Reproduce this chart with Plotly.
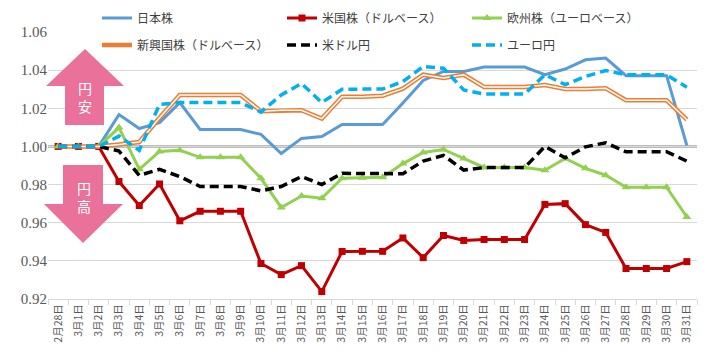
import plotly.graph_objects as go

dates = ["2月28日"] + [f"3月{d}日" for d in range(1, 32)]

japan = [1.0, 1.0, 1.0, 1.0167, 1.0094, 1.0125, 1.023, 1.0089, 1.0089, 1.0089, 1.0063, 0.9963,
         1.0042, 1.0052, 1.0115, 1.0115, 1.0115, 1.0228, 1.0346, 1.0393, 1.0393, 1.0416, 1.0416,
         1.0416, 1.0376, 1.0406, 1.0454, 1.0463, 1.0371, 1.0371, 1.0371, 1.0005]
us = [1.0, 1.0, 1.0, 0.9816, 0.969, 0.9803, 0.961, 0.966, 0.966, 0.966, 0.9386, 0.9328,
      0.9375, 0.9239, 0.9449, 0.945, 0.945, 0.952, 0.9417, 0.9533, 0.9507, 0.9512, 0.9512,
      0.9512, 0.9696, 0.970, 0.959, 0.9549, 0.936, 0.936, 0.936, 0.9396]
europe = [1.0, 1.0, 1.0, 1.0099, 0.988, 0.9974, 0.998, 0.9943, 0.9943, 0.9943, 0.9833, 0.968,
          0.974, 0.9728, 0.9833, 0.9836, 0.9838, 0.991, 0.9968, 0.9984, 0.9937, 0.989, 0.989,
          0.989, 0.9875, 0.9937, 0.9885, 0.9849, 0.9786, 0.9786, 0.9786, 0.963]
emerging = [1.0, 1.0, 1.0, 1.001, 1.0023, 1.015, 1.027, 1.027, 1.027, 1.027, 1.0185, 1.019,
            1.019, 1.0146, 1.026, 1.026, 1.0266, 1.0303, 1.0376, 1.0359, 1.0376, 1.0312, 1.0312,
            1.0312, 1.0322, 1.0301, 1.0301, 1.0305, 1.0242, 1.0242, 1.0242, 1.014]
usdjpy = [1.0, 1.0, 1.0, 0.9976, 0.9848, 0.988, 0.9842, 0.979, 0.979, 0.979, 0.9767, 0.979,
          0.9842, 0.980, 0.9859, 0.9858, 0.9857, 0.9857, 0.9923, 0.9953, 0.9876, 0.9889, 0.9889,
          0.9889, 1.000, 0.994, 0.9998, 1.0019, 0.9972, 0.9972, 0.9972, 0.9923]
eurjpy = [1.0, 1.0, 1.0, 1.0054, 0.998, 1.022, 1.023, 1.023, 1.023, 1.023, 1.018, 1.027,
          1.033, 1.023, 1.030, 1.030, 1.0301, 1.034, 1.0419, 1.041, 1.0296, 1.0275, 1.0275,
          1.0275, 1.0376, 1.0324, 1.0367, 1.0398, 1.0376, 1.0376, 1.0376, 1.031]

y_ticks = [0.92, 0.94, 0.96, 0.98, 1.00, 1.02, 1.04, 1.06]

W, H = 712, 354
L, R, T, B = 48, 15, 32, 55
pw, ph = W - L - R, H - T - B


def px(x):
    return (x - L) / pw


def py(y):
    return (H - B - y) / ph


fig = go.Figure()

fig.add_trace(go.Scatter(x=dates, y=japan, name="日本株", mode="lines",
                         line=dict(color="#5B9BD5", width=3), legend="legend"))
fig.add_trace(go.Scatter(x=dates, y=us, name="米国株（ドルベース）", mode="lines+markers",
                         line=dict(color="#C00000", width=3),
                         marker=dict(symbol="square", size=7, color="#C00000"), legend="legend"))
fig.add_trace(go.Scatter(x=dates, y=europe, name="欧州株（ユーロベース）", mode="lines+markers",
                         line=dict(color="#92D050", width=3),
                         marker=dict(symbol="triangle-up", size=8, color="#92D050"), legend="legend"))
fig.add_trace(go.Scatter(x=dates, y=emerging, name="新興国株（ドルベース）", mode="lines",
                         line=dict(color="#ED7D31", width=4.5), legend="legend2",
                         legendgroup="em"))
fig.add_trace(go.Scatter(x=dates, y=emerging, name="新興国株（ドルベース）", mode="lines",
                         line=dict(color="white", width=1.5), legend="legend2",
                         legendgroup="em", showlegend=False, hoverinfo="skip"))
fig.add_trace(go.Scatter(x=dates, y=usdjpy, name="米ドル円", mode="lines",
                         line=dict(color="black", width=3.5, dash="9px,5px"), legend="legend2"))
fig.add_trace(go.Scatter(x=dates, y=eurjpy, name="ユーロ円", mode="lines",
                         line=dict(color="#00B0F0", width=3.5, dash="9px,5px"), legend="legend2"))

shapes = [dict(type="line", xref="paper", yref="y", x0=0, x1=1, y0=1.0, y1=1.0,
               line=dict(color="#A6A6A6", width=2.5), layer="below")]

pink = "#E9719A"
up = [(85, 49), (124, 86), (104, 86), (104, 125), (65, 125), (65, 86), (46, 86)]
down = [(63, 165), (103, 165), (103, 204), (123, 204), (83, 243), (44, 204), (63, 204)]
for poly in (up, down):
    path = "M " + " L ".join(f"{px(x):.5f},{py(y):.5f}" for x, y in poly) + " Z"
    shapes.append(dict(type="path", xref="paper", yref="paper", path=path,
                       fillcolor=pink, line=dict(width=0), layer="above"))

arrow_font = dict(color="white", size=14, family="Noto Sans CJK JP")
annotations = [
    dict(x=px(85), y=py(97), xref="paper", yref="paper", text="円<br>安", showarrow=False,
         font=arrow_font, xanchor="center", yanchor="middle", align="center", borderpad=0),
    dict(x=px(84), y=py(197), xref="paper", yref="paper", text="円<br>高", showarrow=False,
         font=arrow_font, xanchor="center", yanchor="middle", align="center", borderpad=0),
]

legend_font = dict(family="Noto Sans CJK JP", size=12, color="#404040")
fig.update_layout(
    width=W, height=H,
    margin=dict(l=L, r=R, t=T, b=B, autoexpand=False),
    paper_bgcolor="white", plot_bgcolor="white",
    shapes=shapes, annotations=annotations,
    showlegend=True,
    legend=dict(orientation="h", x=px(97), xanchor="left", y=py(18), yanchor="middle",
                entrywidth=140, font=legend_font, bgcolor="rgba(0,0,0,0)", traceorder="normal"),
    legend2=dict(orientation="h", x=px(97), xanchor="left", y=py(45), yanchor="middle",
                 entrywidth=140, font=legend_font, bgcolor="rgba(0,0,0,0)", traceorder="normal"),
    xaxis=dict(type="category", tickangle=-90, tickfont=dict(family="Noto Sans CJK JP", size=10.5,
               color="#595959"), showgrid=False, showline=True, linecolor="#D9D9D9",
               ticks="outside", tickson="boundaries", ticklen=5, tickcolor="#D9D9D9",
               range=[-0.5, len(dates) - 0.5]),
    yaxis=dict(range=[0.92, 1.06], tickvals=y_ticks, ticktext=[f"{v:.2f}" for v in y_ticks],
               showgrid=True, gridcolor="#D9D9D9", gridwidth=1, zeroline=False,
               tickfont=dict(family="Liberation Serif, DejaVu Serif, serif", size=15, color="#595959"),
               showline=False, ticks=""),
)

fig.write_html("out.html")
